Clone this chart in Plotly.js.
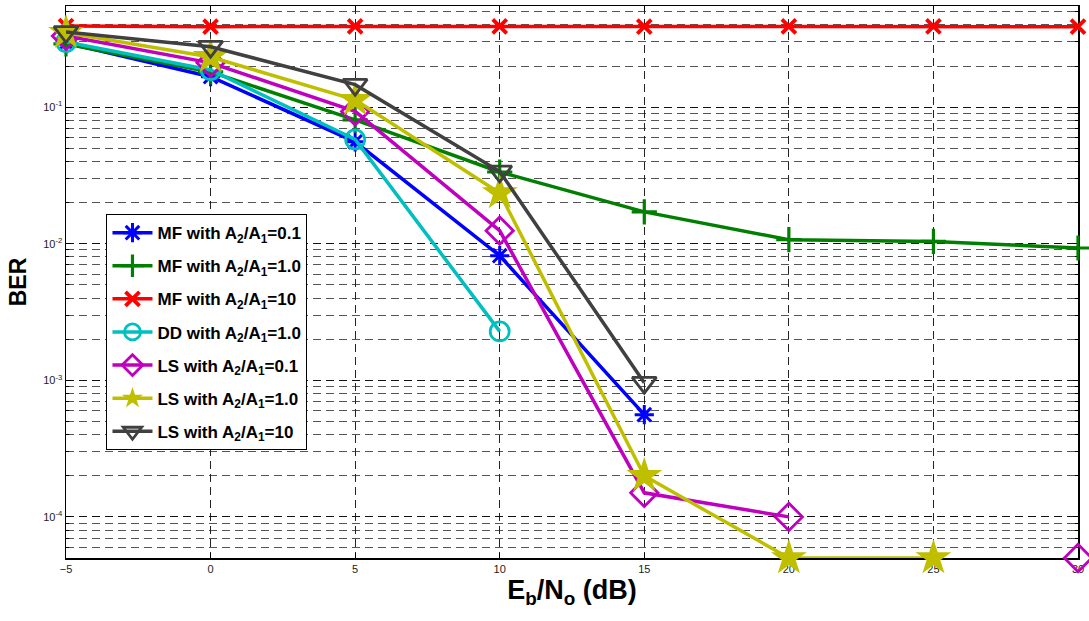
<!DOCTYPE html>
<html>
<head>
<meta charset="utf-8">
<script src="https://cdn.plot.ly/plotly-3.0.1.min.js"></script>
<style>
  html, body { margin: 0; padding: 0; background: #fff; }
  #chart { width: 1089px; height: 621px; }
</style>
</head>
<body>
<div id="chart"></div>
<script>
// Eb/No sweep in dB
const ebno = [-5, 0, 5, 10, 15, 20, 25, 30];

// Bit error rates per detector (null = no errors counted, point not drawn)
const mf01  = [0.295, 0.167, 0.0557, 0.00817, 0.00056, null, null, null];
const mf10  = [0.29, 0.181, 0.0806, 0.0335, 0.0171, 0.0107, 0.0104, 0.0093];
const mf100 = [0.392, 0.388, 0.39, 0.39, 0.389, 0.39, 0.39, 0.388];
const dd10  = [0.30, 0.187, 0.058, 0.00228, null, null, null, null];
const ls01  = [0.332, 0.211, 0.093, 0.01245, 0.00015, 0.0001, null, 0.00005];
const ls10  = [0.35, 0.233, 0.113, 0.0235, 0.0002, 0.00005, 0.00005, null];
const ls100 = [0.355, 0.277, 0.146, 0.0338, 0.00096, null, null, null];

const names = [
  'MF with A<sub>2</sub>/A<sub>1</sub>=0.1',
  'MF with A<sub>2</sub>/A<sub>1</sub>=1.0',
  'MF with A<sub>2</sub>/A<sub>1</sub>=10',
  'DD with A<sub>2</sub>/A<sub>1</sub>=1.0',
  'LS with A<sub>2</sub>/A<sub>1</sub>=0.1',
  'LS with A<sub>2</sub>/A<sub>1</sub>=1.0',
  'LS with A<sub>2</sub>/A<sub>1</sub>=10'
];

const yTickVals = [1e-4, 1e-3, 1e-2, 1e-1];
const yTickText = ['10<sup>-4</sup>', '10<sup>-3</sup>', '10<sup>-2</sup>', '10<sup>-1</sup>'];

// minor grid positions: 2..9 within each decade
const yMinor = [];
for (let e = -5; e <= -1; e++) {
  for (let m = 2; m <= 9; m++) yMinor.push(m * Math.pow(10, e));
}

function series(y, name, color, symbol, size, lineW) {
  return {
    x: ebno, y: y, name: name, legendgroup: name,
    type: 'scatter', mode: 'lines+markers',
    connectgaps: false, cliponaxis: false,
    line: { color: color, width: 3.5 },
    marker: {
      symbol: symbol, size: size,
      color: color,
      line: { color: color, width: lineW }
    }
  };
}

const data = [
  series(mf01,  names[0], '#0000ff', 'asterisk-open', 16, 3),
  series(mf10,  names[1], '#007f00', 'cross-thin-open', 18, 3.2),
  series(mf100, names[2], '#ff0000', 'x-thin-open', 14, 3.8),
  series(dd10,  names[3], '#00bfbf', 'circle-open', 19, 2.8),
  series(ls01,  names[4], '#bf00bf', 'diamond-open', 21, 2.8),
  series(ls10,  names[5], '#bfbf00', 'star', 27, 0),
  series(ls100, names[6], '#404040', 'triangle-down-open', 21, 2.8)
];

const gridDash = '8px,5px';
const fam = 'Liberation Sans, Arial, sans-serif';

const layout = {
  width: 1089, height: 621,
  margin: { l: 66, r: 11, t: 6, b: 63 },
  paper_bgcolor: '#ffffff', plot_bgcolor: '#ffffff',
  font: { family: fam, color: '#000' },
  showlegend: true,
  legend: {
    x: 0.04, y: 0.623, xanchor: 'left', yanchor: 'top',
    bgcolor: '#ffffff', bordercolor: '#000', borderwidth: 1,
    font: { family: fam, size: 17, color: '#000', weight: 'bold' },
    traceorder: 'grouped', tracegroupgap: 8,
    itemwidth: 40
  },
  xaxis: {
    range: [-5, 30],
    tickvals: [-5, 0, 5, 10, 15, 20, 25, 30],
    ticks: 'inside', ticklen: 5, tickcolor: '#000',
    showline: true, linecolor: '#000', linewidth: 1.5, mirror: 'ticks',
    showgrid: true, gridcolor: '#222', griddash: gridDash, gridwidth: 1,
    zeroline: false,
    layer: 'below traces',
    tickfont: { family: fam, size: 11, color: '#222' },
    title: {
      text: 'E<sub>b</sub>/N<sub>o</sub> (dB)',
      font: { family: fam, size: 27, color: '#000', weight: 'bold' },
      standoff: 6
    }
  },
  yaxis: {
    type: 'log',
    range: [Math.log10(5e-5), Math.log10(0.55)],
    tickmode: 'array', tickvals: yTickVals, ticktext: yTickText,
    ticks: 'inside', ticklen: 5, tickcolor: '#000',
    showline: true, linecolor: '#000', linewidth: 1.5, mirror: 'ticks',
    showgrid: true, gridcolor: '#111', griddash: gridDash, gridwidth: 1,
    zeroline: false,
    layer: 'below traces',
    minor: {
      tickmode: 'array', tickvals: yMinor,
      ticks: 'inside', ticklen: 3, tickcolor: '#000',
      showgrid: true, gridcolor: '#555', griddash: gridDash, gridwidth: 1
    },
    tickfont: { family: fam, size: 11, color: '#222' },
    title: {
      text: 'BER',
      font: { family: fam, size: 23, color: '#000', weight: 'bold' },
      standoff: 10
    }
  }
};

Plotly.newPlot('chart', data, layout, { displayModeBar: false, staticPlot: true });
</script>
</body>
</html>
